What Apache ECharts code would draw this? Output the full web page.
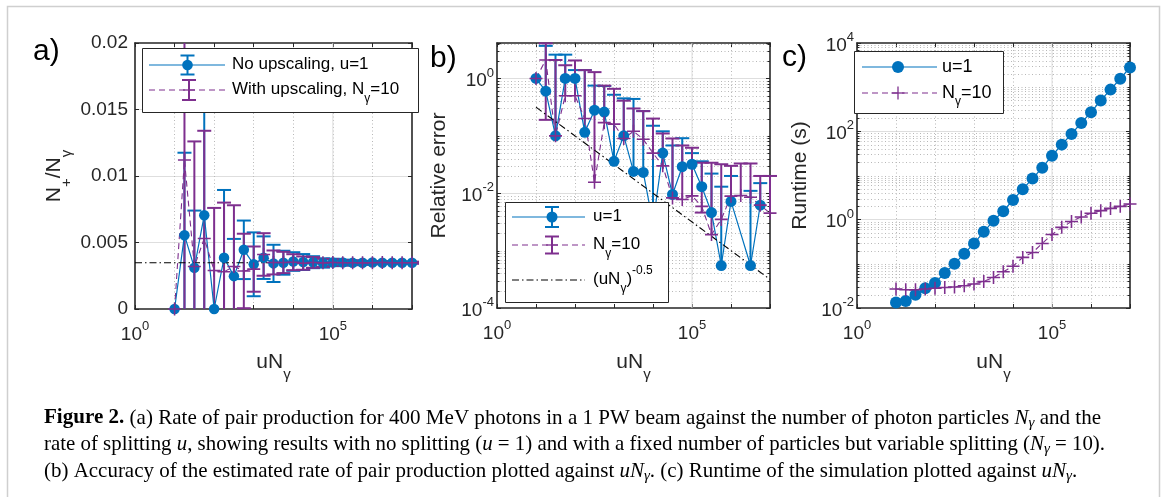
<!DOCTYPE html>
<html>
<head>
<meta charset="utf-8">
<title>Figure 2</title>
<script src="https://cdn.jsdelivr.net/npm/echarts@6.0.0/dist/echarts.min.js"></script>
<style>
  html, body { margin: 0; padding: 0; background: #fff; }
  #chart { width: 1167px; height: 497px; }
</style>
</head>
<body>
<div id="chart"></div>
<script>
// uN_gamma, shared by the three panels
var uN = [10, 17.78, 31.62, 56.23, 100, 177.8, 316.2, 562.3, 1000, 1778, 3162, 5623,
  1e4, 17783, 31623, 56234, 1e5, 177828, 316228, 562341, 1e6, 1778279, 3162278, 5623413, 1e7];

// a) N+/N_gamma with error
var rateU1 = [0, 0.00555, 0.0031, 0.00705, 0, 0.00385, 0.00247, 0.00445, 0.00336, 0.00386, 0.00343, 0.00348,
  0.00357, 0.00353, 0.00352, 0.00346, 0.0035, 0.00349, 0.00347, 0.00348, 0.00349, 0.00348, 0.00348, 0.00348, 0.00348];
var errU1 = [0, 0.0062, 0.0043, 0.0085, 0, 0.0051, 0.0028, 0.0022, 0.0024, 0.0016, 0.0014, 0.0009,
  0.0007, 0.0006, 0.00045, 0.00035, 0.00028, 0.00022, 0.00017, 0.00013, 0.0001, 0.00008, 0.00006, 0.00005, 0.00004];
var rateN10 = [0, 0.0112, 0.0032, 0.0053, 0.0029, 0.0028, 0.0032, 0.00286, 0.003, 0.0041, 0.0035, 0.0035,
  0.00352, 0.00345, 0.0035, 0.00347, 0.00349, 0.00348, 0.00348, 0.00347, 0.00348, 0.00349, 0.00348, 0.00348, 0.00348];
var errN10 = [0, 0.0125, 0.0094, 0.0081, 0.0047, 0.0052, 0.0046, 0.0028, 0.0017, 0.0016, 0.0009, 0.0008,
  0.0006, 0.0005, 0.0004, 0.0003, 0.00025, 0.0002, 0.00018, 0.00015, 0.00012, 0.0001, 0.0001, 0.00008, 0.00008];
var refX = [1, 1e7];
var refRate = [0.00348, 0.00348];

// b) relative error (null: not shown on the log axis)
var relU1 = [1.0, 0.60, 0.10, 1.0, 1.0, 0.115, 0.28, 0.26, 0.036, 0.10, 0.024, 0.023,
  0.003, 0.050, 0.0095, 0.029, 0.032, 0.013, 0.0046, 0.00055, 0.0072, null, 0.00055, 0.0062, null];
var relU1Hi = [null, 3.7, 2.6, 2.6, 1.4, 1.4, 0.75, 0.74, 0.52, 0.45, 0.44, 0.27,
  0.15, 0.12, 0.068, 0.091, 0.05, 0.036, 0.022, 0.013, 0.02, null, 0.011, 0.015, null];
var relN10 = [1.0, 2.1, 0.10, 0.50, 0.50, 0.20, 0.0155, 0.17, 0.16, 0.09, 0.12, 0.087,
  0.05, 0.03, 0.0083, 0.0078, 0.009, 0.0059, 0.0019, 0.0035, 0.0089, 0.0091, 0.0085, 0.0062, 0.0045];
var relN10Hi = [null, 4.1, 2.1, 1.7, 2.06, 1.4, 1.29, 0.75, 0.66, 0.41, 0.3, 0.27,
  0.2, 0.11, 0.09, 0.068, 0.062, 0.034, 0.034, 0.032, 0.03, 0.033, 0.033, 0.02, 0.02];
var relN10Lo = [null, 0.19, null, null, null, null, null, null, null, null, null, null,
  null, null, null, null, null, 0.0046, null, null, null, null, null, null, null];
var slopeX = [10, 1e7];
var slopeY = [0.316, 0.000316];

// c) runtime (s)
var runU1 = [0.0134, 0.0144, 0.020, 0.028, 0.037, 0.062, 0.10, 0.17, 0.29, 0.53, 0.95, 1.55,
  2.8, 4.9, 8.5, 15, 28, 50, 87, 155, 270, 500, 880, 1550, 2800];
var runN10 = [0.027, 0.026, 0.026, 0.027, 0.028, 0.029, 0.030, 0.032, 0.035, 0.040, 0.049, 0.066,
  0.088, 0.14, 0.18, 0.29, 0.46, 0.67, 0.91, 1.15, 1.4, 1.6, 1.8, 2.0, 2.26];

// tick labels (exponents of ten)
var xLabelExp = [0, 5];
var aYTicks = [0, 0.005, 0.01, 0.015, 0.02];
var bLabelExp = [-4, -2, 0];
var cLabelExp = [-2, 0, 2, 4];
var minorK = [2, 3, 4, 5, 6, 7, 8, 9];

var AX = '#262626', BLUE = '#0072BD', PURPLE = '#7E2F8E';
var MAJOR = '#dedede', MINOR = '#b8b8b8';
var FONT = '"Liberation Sans", Arial, Helvetica, sans-serif';
var SERIF = '"Liberation Serif", "Times New Roman", serif';
var lg = Math.log10;

var TICK = {
  b: { fontFamily: FONT, fontSize: 19, color: AX, lineHeight: 24, verticalAlign: 'bottom' },
  s: { fontFamily: FONT, fontSize: 13, color: AX, lineHeight: 13, verticalAlign: 'top' }
};
var TITLE = {
  n: { fontFamily: FONT, fontSize: 21, color: AX, lineHeight: 30, verticalAlign: 'top' },
  s: { fontFamily: FONT, fontSize: 15, color: AX, lineHeight: 15, verticalAlign: 'bottom' }
};
function legRich(fs) {
  return {
    n: { fontFamily: FONT, fontSize: fs, color: '#000', lineHeight: 30, verticalAlign: 'top', padding: [6, 0, 0, 0] },
    s: { fontFamily: FONT, fontSize: 12, color: '#000', lineHeight: 12, verticalAlign: 'bottom' },
    p: { fontFamily: FONT, fontSize: 12, color: '#000', lineHeight: 12, verticalAlign: 'top' }
  };
}
function pow10(v) { return '{b|10}{s|' + v + '}'; }

function xPair(gi, gap) {
  var line = { show: true, onZero: false, lineStyle: { color: AX, width: 1.6 } };
  var tick = { show: true, inside: true, length: 4, lineStyle: { color: AX, width: 1 } };
  return [{
    type: 'value', gridIndex: gi, min: 0, max: 7, interval: 1, position: 'bottom',
    axisLine: line, axisTick: tick,
    axisLabel: { show: true, margin: 11, rich: TICK, formatter: function (v) { return xLabelExp.indexOf(v) >= 0 ? pow10(v) : ''; } },
    splitLine: { show: true, showMinLine: false, showMaxLine: false, lineStyle: { color: MINOR, type: [1, 2.5], width: 1 } },
    name: '{n|uN}{s|γ}', nameLocation: 'middle', nameGap: gap, nameMoveOverlap: false, nameTextStyle: { rich: TITLE }
  }, {
    type: 'value', gridIndex: gi, min: 0, max: 7, interval: 1, position: 'top',
    axisLine: line, axisTick: tick, axisLabel: { show: false }, splitLine: { show: false }
  }];
}
function yPair(gi, o) {
  var line = { show: true, onZero: false, lineStyle: { color: AX, width: 1.6 } };
  var tick = { show: true, inside: true, length: 4, lineStyle: { color: AX, width: 1 } };
  return [{
    type: 'value', gridIndex: gi, min: o.min, max: o.max, interval: o.interval, position: 'left',
    axisLine: line, axisTick: tick, axisLabel: o.label,
    splitLine: { show: true, showMinLine: false, showMaxLine: false, lineStyle: { color: MAJOR, width: 1 } },
    name: o.name, nameLocation: 'middle', nameRotate: 90, nameGap: o.gap, nameMoveOverlap: false, nameTextStyle: { rich: TITLE }
  }, {
    type: 'value', gridIndex: gi, min: o.min, max: o.max, interval: o.interval, position: 'right',
    axisLine: line, axisTick: tick, axisLabel: { show: false }, splitLine: { show: false }
  }];
}

// grid decorations: solid line at labelled x ticks, dotted minor lines + minor ticks on log y
function decorData(yFrom, yTo, yMajor, yMax) {
  var d = [];
  xLabelExp.forEach(function (e) { if (e > 0) d.push([0, e]); });
  for (var n = yFrom; n < yTo; n++) {
    if (yMajor.indexOf(n) < 0) d.push([1, n]);
    minorK.forEach(function (k) { if (n + lg(k) < yMax) d.push([1, n + lg(k)]); });
  }
  return d;
}
function decorItem(params, api) {
  var cs = params.coordSys;
  if (api.value(0) === 0) {
    var x = api.coord([api.value(1), 0])[0];
    return { type: 'line', shape: { x1: x, y1: cs.y, x2: x, y2: cs.y + cs.height }, style: { stroke: MAJOR, lineWidth: 1 } };
  }
  var y = Math.round(api.coord([0, api.value(1)])[1]) + 0.5;
  return { type: 'group', children: [
    { type: 'line', shape: { x1: cs.x, y1: y, x2: cs.x + cs.width, y2: y }, style: { stroke: MINOR, lineWidth: 1, lineDash: [1, 2.5] } },
    { type: 'line', shape: { x1: cs.x, y1: y, x2: cs.x + 2.5, y2: y }, style: { stroke: AX, lineWidth: 1 } },
    { type: 'line', shape: { x1: cs.x + cs.width - 2.5, y1: y, x2: cs.x + cs.width, y2: y }, style: { stroke: AX, lineWidth: 1 } }
  ] };
}

// error bars: [x, low, high, lowCap, highCap]
function barsLin(mean, err) {
  var out = [];
  for (var i = 0; i < uN.length; i++) {
    if (err[i]) out.push([lg(uN[i]), mean[i] - err[i], mean[i] + err[i], 1, 1]);
  }
  return out;
}
function barsLog(mean, hi, lo) {
  var out = [];
  for (var i = 0; i < uN.length; i++) {
    if (hi[i] == null || mean[i] == null) continue;
    var hasLo = lo && lo[i] != null;
    out.push([lg(uN[i]), lg(hasLo ? lo[i] : mean[i]), lg(hi[i]), hasLo ? 1 : 0, 1]);
  }
  return out;
}
function barRender(color) {
  return function (params, api) {
    var cs = params.coordSys, top = cs.y, bot = cs.y + cs.height;
    var p1 = api.coord([api.value(0), api.value(1)]);
    var p2 = api.coord([api.value(0), api.value(2)]);
    var x = p1[0], st = { stroke: color, lineWidth: 2 };
    var kids = [{ type: 'line', shape: { x1: x, y1: Math.min(Math.max(p1[1], top), bot), x2: x, y2: Math.min(Math.max(p2[1], top), bot) }, style: st }];
    if (api.value(3) && p1[1] >= top && p1[1] <= bot) kids.push({ type: 'line', shape: { x1: x - 7, y1: p1[1], x2: x + 7, y2: p1[1] }, style: st });
    if (api.value(4) && p2[1] >= top && p2[1] <= bot) kids.push({ type: 'line', shape: { x1: x - 7, y1: p2[1], x2: x + 7, y2: p2[1] }, style: st });
    return { type: 'group', children: kids };
  };
}
function pairs(ys, logY) {
  return uN.map(function (x, i) { return [lg(x), ys[i] == null ? null : (logY ? lg(ys[i]) : ys[i])]; });
}
var PLUS = 'path://M0,4.4H10V5.6H0Z M4.4,0H5.6V10H4.4Z';

function errSeries(ai, data, color) {
  return { type: 'custom', xAxisIndex: ai, yAxisIndex: ai, data: data, renderItem: barRender(color),
    clip: false, silent: true, animation: false, encode: { x: 0, y: [1, 2] } };
}
function lineSeries(ai, data, o) {
  return { type: 'line', xAxisIndex: ai, yAxisIndex: ai, data: data, symbol: o.symbol || 'none',
    symbolSize: o.size || 0, connectNulls: true, silent: true, animation: false,
    lineStyle: { color: o.color, width: o.width || 1.2, type: o.type || 'solid' }, itemStyle: { color: o.color } };
}
function decorSeries(ai, data) {
  return { type: 'custom', xAxisIndex: ai, yAxisIndex: ai, data: data, renderItem: decorItem, z: 1,
    clip: false, silent: true, animation: false, encode: { x: 1, y: 1 } };
}

var bMax = lg(4.15);

var series = [
  decorSeries(0, decorData(0, 0, [], 0)),
  errSeries(0, barsLin(rateU1, errU1), BLUE),
  lineSeries(0, pairs(rateU1, false), { color: BLUE, symbol: 'circle', size: 10.5, width: 1.2 }),
  errSeries(0, barsLin(rateN10, errN10), PURPLE),
  lineSeries(0, pairs(rateN10, false), { color: PURPLE, symbol: PLUS, size: 13, width: 1.1, type: [6, 4] }),
  lineSeries(0, refX.map(function (x, i) { return [lg(x), refRate[i]]; }), { color: '#000', width: 1.1, type: [7, 3, 1.5, 3] }),

  decorSeries(2, decorData(-4, 1, bLabelExp, bMax)),
  errSeries(2, barsLog(relU1, relU1Hi), BLUE),
  lineSeries(2, pairs(relU1, true), { color: BLUE, symbol: 'circle', size: 11, width: 1.2 }),
  errSeries(2, barsLog(relN10, relN10Hi, relN10Lo), PURPLE),
  lineSeries(2, pairs(relN10, true), { color: PURPLE, symbol: PLUS, size: 13, width: 1.1, type: [6, 4] }),
  lineSeries(2, slopeX.map(function (x, i) { return [lg(x), lg(slopeY[i])]; }), { color: '#000', width: 1.1, type: [7, 3, 1.5, 3] }),

  decorSeries(4, decorData(-2, 4, cLabelExp, 4)),
  lineSeries(4, pairs(runU1, true), { color: BLUE, symbol: 'circle', size: 12, width: 1.2 }),
  lineSeries(4, pairs(runN10, true), { color: PURPLE, symbol: PLUS, size: 13, width: 1.1, type: [6, 4] })
];

// legends, panel letters, caption
function seg(x1, y1, x2, y2, color, w, dash) {
  var st = { stroke: color, lineWidth: w };
  if (dash) st.lineDash = dash;
  return { type: 'line', z: 100, silent: true, shape: { x1: x1, y1: y1, x2: x2, y2: y2 }, style: st };
}
function errGlyph(x, y, half, color) {
  return [seg(x, y - half, x, y + half, color, 2), seg(x - 7, y - half, x + 7, y - half, color, 2), seg(x - 7, y + half, x + 7, y + half, color, 2)];
}
function dot(x, y, r, color) { return { type: 'circle', z: 100, silent: true, shape: { cx: x, cy: y, r: r }, style: { fill: color } }; }
function cross(x, y, h, color) { return [seg(x - h, y, x + h, y, color, 1.3), seg(x, y - h, x, y + h, color, 1.3)]; }
function box(x, y, w, h) { return { type: 'rect', z: 99, silent: true, shape: { x: x + 0.5, y: y + 0.5, width: w, height: h }, style: { fill: '#fff', stroke: AX, lineWidth: 1 } }; }
function txt(x, y, s, rich) { return { type: 'text', z: 100, silent: true, x: x, y: y, style: { text: s, rich: rich, align: 'left', verticalAlign: 'middle' } }; }

var L17 = legRich(17), L18 = legRich(18);
var gfx = [
  { type: 'rect', z: 0, silent: true, shape: { x: 7.5, y: 6.5, width: 1152, height: 530 }, style: { fill: 'none', stroke: '#cfcfcf', lineWidth: 1.5 } },
  { type: 'text', z: 100, x: 33, y: 52, style: { text: 'a)', fontFamily: FONT, fontSize: 30, fill: '#000', verticalAlign: 'middle' } },
  { type: 'text', z: 100, x: 430, y: 59, style: { text: 'b)', fontFamily: FONT, fontSize: 30, fill: '#000', verticalAlign: 'middle' } },
  { type: 'text', z: 100, x: 782, y: 58, style: { text: 'c)', fontFamily: FONT, fontSize: 30, fill: '#000', verticalAlign: 'middle' } },

  box(142, 48, 276, 64),
  seg(149, 65, 225, 65, BLUE, 1.2), dot(187.5, 65, 5.3, BLUE),
  txt(232, 65, '{n|No upscaling, u=1}', L17),
  seg(149, 90, 225, 90, PURPLE, 1.1, [6, 4]),
  txt(232, 90, '{n|With upscaling, N}{s|γ}{n|=10}', L17),

  box(505, 202, 163, 100),
  seg(512, 217, 585, 217, BLUE, 1.2), dot(552, 217, 5.5, BLUE),
  txt(593, 217, '{n|u=1}', L17),
  seg(512, 245, 585, 245, PURPLE, 1.1, [6, 4]),
  txt(593, 245, '{n|N}{s|γ}{n|=10}', L17),
  seg(512, 280, 585, 280, '#000', 1.1, [7, 3, 1.5, 3]),
  txt(593, 280, '{n|(uN}{s|γ}{n|)}{p|-0.5}', L17),

  box(854, 51, 149, 62),
  seg(862, 67, 937, 67, BLUE, 1.2), dot(898, 67, 6, BLUE),
  txt(942, 67, '{n|u=1}', L18),
  seg(862, 93, 937, 93, PURPLE, 1.1, [6, 4])
].concat(errGlyph(187.5, 65, 9.5, BLUE), errGlyph(189, 90, 10, PURPLE), cross(189, 90, 6, PURPLE),
  errGlyph(552, 217, 10, BLUE), errGlyph(552, 245, 8.5, PURPLE), cross(552, 245, 6, PURPLE),
  cross(898, 93, 6.5, PURPLE), [txt(942, 93, '{n|N}{s|γ}{n|=10}', L18)]);

var CAP = {
  r: { fontFamily: SERIF, fontSize: 21, color: '#231f20', lineHeight: 25 },
  b: { fontFamily: SERIF, fontSize: 21, fontWeight: 'bold', color: '#231f20', lineHeight: 25 },
  i: { fontFamily: SERIF, fontSize: 21, fontStyle: 'italic', color: '#231f20', lineHeight: 25 },
  s: { fontFamily: SERIF, fontSize: 15, fontStyle: 'italic', color: '#231f20', lineHeight: 15, verticalAlign: 'bottom' }
};
var capLines = [
  [['Figure 2.', 'b'], [' (a) Rate of pair production for 400 MeV photons in a 1 PW beam against the number of photon particles ', 'r'], ['N', 'i'], ['γ', 's'], [' and the', 'r']],
  [['rate of splitting ', 'r'], ['u', 'i'], [', showing results with no splitting (', 'r'], ['u', 'i'], [' = 1) and with a fixed number of particles but variable splitting (', 'r'], ['N', 'i'], ['γ', 's'], [' = 10).', 'r']],
  [['(b) Accuracy of the estimated rate of pair production plotted against ', 'r'], ['uN', 'i'], ['γ', 's'], ['. (c) Runtime of the simulation plotted against ', 'r'], ['uN', 'i'], ['γ', 's'], ['.', 'r']]
];
var capY = [418, 444, 471];
var capWidth = [1057, 1061, null];
var ctx = document.createElement('canvas').getContext('2d');
function lineWidthOf(parts) {
  var w = 0;
  parts.forEach(function (p) {
    var st = CAP[p[1]];
    ctx.font = (st.fontStyle || 'normal') + ' ' + (st.fontWeight || 'normal') + ' ' + st.fontSize + 'px ' + SERIF;
    w += ctx.measureText(p[0]).width;
  });
  return w;
}
var scales = capLines.map(function (parts, i) { return capWidth[i] ? capWidth[i] / lineWidthOf(parts) : null; });
scales[2] = (scales[0] + scales[1]) / 2;
capLines.forEach(function (parts, i) {
  gfx.push({ type: 'text', z: 100, silent: true, x: 44, y: capY[i], scaleX: scales[i],
    style: { text: parts.map(function (p) { return '{' + p[1] + '|' + p[0] + '}'; }).join(''), rich: CAP, align: 'left', verticalAlign: 'middle' } });
});

var chart = echarts.init(document.getElementById('chart'), null, { renderer: 'canvas' });
chart.setOption({
  backgroundColor: '#fff',
  animation: false,
  textStyle: { fontFamily: FONT },
  grid: [
    { left: 135, top: 43, width: 277, height: 266, outerBoundsMode: 'none' },
    { left: 497, top: 43, width: 273, height: 265, outerBoundsMode: 'none' },
    { left: 857, top: 43, width: 273, height: 265, outerBoundsMode: 'none' }
  ],
  xAxis: [].concat(xPair(0, 43), xPair(1, 44), xPair(2, 44)),
  yAxis: [].concat(
    yPair(0, { min: 0, max: 0.02, interval: 0.005, gap: 61, name: '{n|N}{s|+}{n|/N}{s|γ}',
      label: { show: true, margin: 7, fontSize: 19, color: AX, fontFamily: FONT, formatter: function (v) { return String(parseFloat(v.toFixed(4))); } } }),
    yPair(1, { min: -4, max: bMax, interval: 2, gap: 38, name: '{n|Relative error}',
      label: { show: true, margin: 3, rich: TICK, formatter: function (v) { return bLabelExp.indexOf(v) >= 0 ? pow10(v) : ''; } } }),
    yPair(2, { min: -2, max: 4, interval: 2, gap: 37, name: '{n|Runtime (s)}',
      label: { show: true, margin: 3, rich: TICK, formatter: function (v) { return cLabelExp.indexOf(v) >= 0 ? pow10(v) : ''; } } })
  ),
  series: series,
  graphic: { elements: gfx }
});
</script>
</body>
</html>
